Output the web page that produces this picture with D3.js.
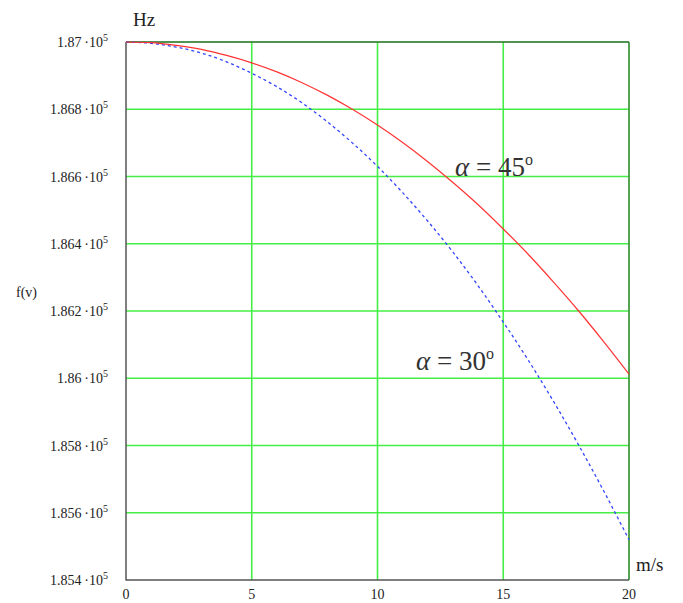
<!DOCTYPE html>
<html><head><meta charset="utf-8">
<script src="https://cdn.jsdelivr.net/npm/d3@7"></script>
<style>body{margin:0;background:#fff}svg{display:block}text{font-family:"Liberation Serif","DejaVu Serif",serif;fill:#222}</style>
</head><body><svg id="c" width="683" height="603"></svg>
<script>
const speeds = [0,1,2,3,4,5,6,7,8,9,10,11,12,13,14,15,16,17,18,19,20];
const f45 = [187000,186998,186990,186978,186960,186938,186911,186879,186842,186800,186753,186701,186644,186582,186516,186444,186368,186286,186200,186108,186012];
const f30 = [187000,186996,186985,186967,186941,186907,186867,186819,186763,186700,186630,186552,186467,186375,186275,186167,186053,185931,185801,185664,185520];
const xTicks = [0,5,10,15,20];
const yTicks = [187000,186800,186600,186400,186200,186000,185800,185600,185400];
const yTickMant = ["1.87","1.868","1.866","1.864","1.862","1.86","1.858","1.856","1.854"];

const svg = d3.select("#c");
const L=126,R=629,T=42,B=580;
const x = d3.scaleLinear().domain([0,20]).range([L,R]);
const y = d3.scaleLinear().domain([185400,187000]).range([B,T]);

// grid
svg.append("g").selectAll("line").data(xTicks.slice(1)).join("line")
  .attr("x1",d=>x(d)).attr("x2",d=>x(d)).attr("y1",T).attr("y2",B)
  .attr("stroke","#44ee44").attr("stroke-width",1.6);
svg.append("g").selectAll("line").data(yTicks.slice(0,-1)).join("line")
  .attr("x1",L).attr("x2",R).attr("y1",d=>y(d)).attr("y2",d=>y(d))
  .attr("stroke","#44ee44").attr("stroke-width",1.6);
// frame
svg.append("line").attr("x1",L).attr("x2",R).attr("y1",T).attr("y2",T).attr("stroke","#333").attr("stroke-width",1);
svg.append("line").attr("x1",R).attr("x2",R).attr("y1",T).attr("y2",B).attr("stroke","#333").attr("stroke-width",0.8);
svg.append("line").attr("x1",L).attr("x2",L).attr("y1",T).attr("y2",B+0.5).attr("stroke","#555").attr("stroke-width",1.5);
svg.append("line").attr("x1",L).attr("x2",R).attr("y1",B).attr("y2",B).attr("stroke","#555").attr("stroke-width",1.5);

// curves
const line = d3.line().x((d,i)=>x(speeds[i])).y(d=>y(d)).curve(d3.curveMonotoneX);
svg.append("path").attr("d",line(f30)).attr("fill","none").attr("stroke","#3344ff").attr("stroke-width",1.3).attr("stroke-dasharray","3,3");
svg.append("path").attr("d",line(f45)).attr("fill","none").attr("stroke","#ff3333").attr("stroke-width",1.2);

// y tick labels
const yl = svg.append("g").selectAll("text").data(yTicks).join("text")
  .attr("x",108).attr("y",d=>y(d)+5).attr("text-anchor","end").style("font-size","14px");
yl.append("tspan").text((d,i)=>yTickMant[i]+"\u2009\u00b710");
yl.append("tspan").attr("dy","-6").style("font-size","10px").text("5");

// x tick labels
svg.append("g").selectAll("text").data(xTicks).join("text")
  .attr("x",d=>x(d)).attr("y",599).attr("text-anchor","middle").style("font-size","14px").text(d=>d);

svg.append("text").attr("x",133).attr("y",26).style("font-size","19px").text("Hz");
svg.append("text").attr("x",636).attr("y",571).style("font-size","19px").text("m/s");
svg.append("text").attr("x",16).attr("y",297).style("font-size","14px").text("f(v)");

function ann(xp,yp,deg){
  const t=svg.append("text").attr("x",xp).attr("y",yp).style("font-size","27px").style("fill","#333");
  t.append("tspan").style("font-style","italic").text("\u03b1");
  t.append("tspan").text(" = "+deg);
  t.append("tspan").attr("dy","-11").style("font-size","16px").text("o");
}
ann(455,176,"45");
ann(416,370,"30");
</script></body></html>
